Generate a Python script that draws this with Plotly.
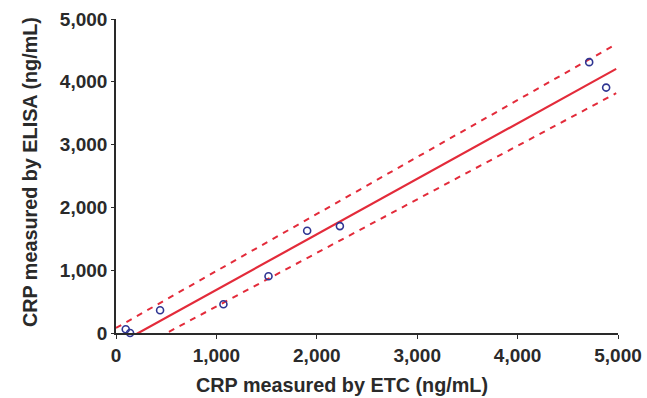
import plotly.graph_objects as go

# Data
etc_x = [97, 140, 439, 1070, 1519, 1904, 2230, 4713, 4882]
elisa_y = [59, 0, 362, 458, 904, 1627, 1702, 4313, 3908]

line_x = [0, 4982]
fit_y = [-196, 4206]
upper_y = [80, 4600]
lower_y = [-430, 3818]

tick_vals = [0, 1000, 2000, 3000, 4000, 5000]
tick_text = ["0", "1,000", "2,000", "3,000", "4,000", "5,000"]

x_title = "CRP measured by ETC (ng/mL)"
y_title = "CRP measured by ELISA (ng/mL)"

red = "#e32b3a"
ink = "#2a2a2a"
fig = go.Figure()
fig.add_trace(go.Scatter(x=line_x, y=upper_y, mode="lines",
                         line=dict(color=red, width=2, dash="6px,6px"), showlegend=False))
fig.add_trace(go.Scatter(x=line_x, y=lower_y, mode="lines",
                         line=dict(color=red, width=2, dash="6px,6px"), showlegend=False))
fig.add_trace(go.Scatter(x=line_x, y=fit_y, mode="lines",
                         line=dict(color=red, width=2.2), showlegend=False))
fig.add_trace(go.Scatter(x=etc_x, y=elisa_y, mode="markers",
                         marker=dict(symbol="circle-open", size=7, color="#2f3592",
                                     line=dict(width=1.6, color="#2f3592")),
                         cliponaxis=False, showlegend=False))

title_font = dict(family="Liberation Sans", size=19.8, color=ink, weight="bold")
fig.update_layout(
    width=647, height=398,
    margin=dict(l=116, r=29, t=19, b=65, autoexpand=False),
    paper_bgcolor="white", plot_bgcolor="white",
    font=dict(family="Liberation Sans, Arial, sans-serif", size=18, color=ink),
    annotations=[
        dict(text=x_title, xref="paper", yref="paper", x=0.45, y=-0.1656,
             xanchor="center", yanchor="middle", showarrow=False, font=title_font),
        dict(text=y_title, xref="paper", yref="paper", x=-0.171, y=0.513,
             xanchor="center", yanchor="middle", textangle=-90, showarrow=False,
             font=title_font),
    ],
)
fig.update_xaxes(range=[0, 5000], tickvals=tick_vals, ticktext=tick_text, automargin=False,
                 showgrid=False, zeroline=False, showline=True, linecolor=ink,
                 linewidth=1.6, ticks="outside", ticklen=4, tickcolor=ink,
                 tickfont=dict(family="Liberation Sans", size=19, color=ink, weight="bold"))
fig.update_yaxes(range=[0, 5000], tickvals=tick_vals, ticktext=tick_text, automargin=False,
                 showgrid=False, zeroline=False, showline=True, linecolor=ink,
                 linewidth=1.6, ticks="outside", ticklen=3, tickcolor=ink,
                 tickfont=dict(family="Liberation Sans", size=19, color=ink, weight="bold"))
fig.write_html("out.html", config={"displayModeBar": False},
               post_script="document.body.style.margin='0';document.body.style.overflow='hidden';")
